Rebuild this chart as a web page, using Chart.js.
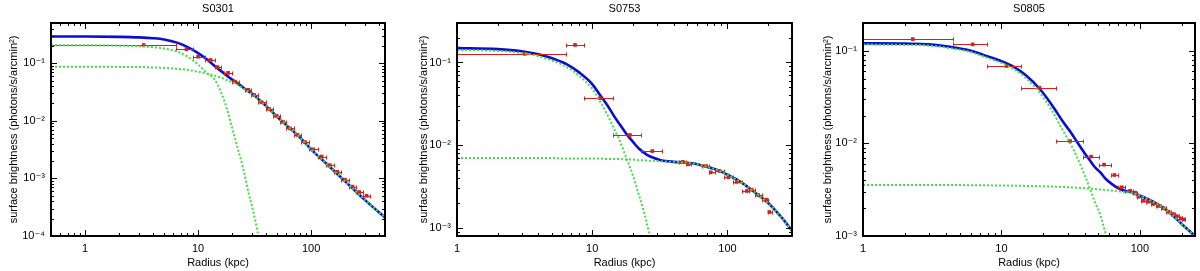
<!DOCTYPE html>
<html><head><meta charset="utf-8">
<script src="https://cdn.jsdelivr.net/npm/chart.js@4.4.1/dist/chart.umd.min.js"></script>
<style>
html,body{margin:0;padding:0;background:#fff;}
#wrap{position:relative;width:1200px;height:271px;overflow:hidden;background:#fff;}
.pane{position:absolute;top:0;width:400px;height:271px;}
canvas{display:block;}
</style></head><body>
<div id="wrap">
<div class="pane" style="left:0px"><canvas id="c1" width="400" height="271"></canvas></div>
<div class="pane" style="left:400px"><canvas id="c2" width="400" height="271"></canvas></div>
<div class="pane" style="left:800px"><canvas id="c3" width="400" height="271"></canvas></div>
</div>
<script>
// ---------- titles & tick labels ----------
const titles = ['S0301', 'S0753', 'S0805'];
const xTitle = 'Radius (kpc)';
const yTitle = 'surface brightness (photons/s/arcmin²)';
const xTickValues = [1, 10, 100];
const xTickLabels = ['1', '10', '100'];
const yTicks_S0301 = [1e-4, 1e-3, 1e-2, 1e-1];
const yLabels_S0301 = ['10⁻⁴', '10⁻³', '10⁻²', '10⁻¹'];
const yTicks_S0753 = [1e-3, 1e-2, 1e-1];
const yLabels_S0753 = ['10⁻³', '10⁻²', '10⁻¹'];
const yTicks_S0805 = [1e-3, 1e-2, 1e-1];
const yLabels_S0805 = ['10⁻³', '10⁻²', '10⁻¹'];

// ---------- S0301 ----------
const s0301_r   = [3.3, 7.9, 10.0, 12.9, 14.8, 18.4, 21.2, 27.8, 31.4, 36.5, 42.6, 49.5, 56.6, 64.9, 75.9, 88, 104, 124, 146.5, 170, 199, 233, 266, 309];
const s0301_sb  = [0.207, 0.175, 0.13, 0.114, 0.086, 0.068, 0.048, 0.0345, 0.028, 0.021, 0.016, 0.0122, 0.0095, 0.0074, 0.0057, 0.0043, 0.0032, 0.0024, 0.0017, 0.0013, 0.00095, 0.00072, 0.00058, 0.00050];
const s0301_rlo = [0.5, 6.4, 9.1, 11.5, 14.0, 17.0, 19.8, 26.0, 29.6, 34.0, 39.5, 46.0, 53.0, 60.5, 70.5, 82.0, 96.0, 114, 135, 158, 185, 216, 250, 288];
const s0301_rhi = [6.4, 9.1, 11.5, 14.0, 16.0, 19.8, 23.0, 29.6, 34.0, 39.5, 46.0, 53.0, 60.5, 70.5, 82.0, 96.0, 114, 135, 158, 185, 216, 250, 288, 330];
const s0301_grid  = [0.5, 1, 2, 3, 4, 5, 6.5, 8, 10, 12, 14, 16, 18, 20, 22, 25, 28, 31, 35, 40, 50, 60, 80, 100, 150, 200, 300, 450];
const s0301_total = [0.292, 0.291, 0.287, 0.281, 0.272, 0.259, 0.228, 0.192, 0.150, 0.116, 0.090, 0.073, 0.061, 0.052, 0.046, 0.038, 0.0325, 0.0283, 0.0228, 0.018, 0.0118, 0.0085, 0.0051, 0.0032, 0.00152, 0.00089, 0.00042, 0.00021];
const s0301_comp1 = [0.205, 0.205, 0.202, 0.197, 0.19, 0.18, 0.16, 0.132, 0.095, 0.068, 0.052, 0.031, 0.016, 0.0075, 0.0038, 0.0015, 0.00055, 0.00025, 0.00008, null, null, null, null, null, null, null, null, null];
const s0301_comp2 = [0.087, 0.087, 0.0865, 0.086, 0.0845, 0.083, 0.080, 0.077, 0.071, 0.066, 0.061, 0.056, 0.051, 0.047, 0.043, 0.037, 0.032, 0.028, 0.0225, 0.0178, 0.0118, 0.0085, 0.0051, 0.0032, 0.00152, 0.00089, 0.00042, 0.00021];

// ---------- S0753 ----------
const s0753_r   = [3.18, 7.46, 11.4, 19.0, 27.8, 46.7, 51.4, 69.5, 75.2, 87.1, 101.6, 117, 139, 151, 169, 193, 204];
const s0753_sb  = [0.127, 0.163, 0.037, 0.0133, 0.0085, 0.0063, 0.0059, 0.0056, 0.0047, 0.0049, 0.0041, 0.0036, 0.0028, 0.0029, 0.0025, 0.0022, 0.00156];
const s0753_rlo = [1, 6.37, 8.74, 14.3, 22.8, 43.5, 49, 65, 72.5, 81, 94.5, 109, 128, 145, 160, 181, 198];
const s0753_rhi = [6.37, 8.74, 14.3, 22.8, 32.7, 49, 54, 72.5, 81, 94.5, 109, 128, 145, 160, 181, 198, 212];
const s0753_grid  = [1, 2, 3, 4, 5, 6.5, 8, 10, 11.4, 13, 14.5, 16, 18, 20, 22, 24, 26, 28, 32, 40, 47, 60, 70, 85, 100, 125, 150, 200, 250, 300];
const s0753_total = [0.149, 0.145, 0.137, 0.126, 0.113, 0.0949, 0.0759, 0.0549, 0.0405, 0.0300, 0.0225, 0.0178, 0.0135, 0.011, 0.0092, 0.0082, 0.0075, 0.0071, 0.0066, 0.0063, 0.0062, 0.0059, 0.0055, 0.0050, 0.0044, 0.0036, 0.0029, 0.0020, 0.00135, 0.00093];
const s0753_comp1 = [0.142, 0.138, 0.13, 0.119, 0.106, 0.088, 0.069, 0.048, 0.034, 0.023, 0.0158, 0.0112, 0.0068, 0.0043, 0.0026, 0.0016, 0.00095, 0.00058, 0.0002, null, null, null, null, null, null, null, null, null, null, null];
const s0753_comp2 = [0.0070, 0.0070, 0.0070, 0.0070, 0.0070, 0.0069, 0.0069, 0.0069, 0.0069, 0.0068, 0.0068, 0.0068, 0.0067, 0.0067, 0.0066, 0.0066, 0.0065, 0.0065, 0.0064, 0.0063, 0.0062, 0.0059, 0.0055, 0.0050, 0.0044, 0.0036, 0.0029, 0.0020, 0.00135, 0.00093];

// ---------- S0805 ----------
const s0805_r   = [2.29, 6.2, 10.9, 18.8, 31.3, 44.4, 55.1, 65.4, 74, 85, 92.3, 97.5, 106, 115, 125, 136, 148, 161, 173, 185, 198, 206];
const s0805_sb  = [0.134, 0.1175, 0.0686, 0.040, 0.0106, 0.0072, 0.0059, 0.00456, 0.00336, 0.00308, 0.00294, 0.00266, 0.0024, 0.00235, 0.00222, 0.00211, 0.00199, 0.00183, 0.00173, 0.00164, 0.00155, 0.00151];
const s0805_rlo = [1, 4.49, 7.91, 13.9, 24.8, 38.7, 51, 61.6, 69.9, 78.2, 88.5, 95, 101.5, 110.5, 120, 130.5, 142, 154.5, 167, 179, 191.5, 202];
const s0805_rhi = [4.49, 7.91, 13.9, 24.8, 38.7, 51, 61.6, 69.9, 78.2, 88.5, 95, 101.5, 110.5, 120, 130.5, 142, 154.5, 167, 179, 191.5, 202, 212];
const s0805_grid  = [1, 2, 3, 4.25, 6, 7.4, 10, 12.2, 15, 19, 23, 28, 32, 35, 40, 43.7, 47, 51.6, 57, 65, 72, 90, 118, 156, 206, 250];
const s0805_total = [0.1206, 0.1196, 0.1176, 0.1106, 0.1005, 0.0905, 0.0775, 0.0675, 0.0545, 0.0385, 0.0264, 0.0169, 0.0129, 0.0105, 0.0078, 0.0065, 0.0056, 0.0049, 0.0041, 0.0035, 0.0032, 0.0029, 0.00245, 0.0019, 0.0013, 0.001];
const s0805_comp1 = [0.117, 0.116, 0.114, 0.107, 0.097, 0.087, 0.074, 0.064, 0.051, 0.035, 0.023, 0.0135, 0.0095, 0.0072, 0.0045, 0.0032, 0.0024, 0.0017, 0.001, 0.0004, null, null, null, null, null, null];
const s0805_comp2 = [0.00356, 0.00356, 0.00355, 0.00355, 0.00354, 0.00353, 0.00351, 0.0035, 0.00348, 0.00345, 0.00342, 0.00338, 0.00335, 0.00333, 0.00328, 0.00325, 0.00322, 0.00318, 0.00314, 0.00308, 0.00302, 0.00288, 0.00245, 0.0019, 0.0013, 0.001];

// ---------- styles / layout ----------
const BLUE = '#0c0cd2', GREEN = '#3fe03f', RED = '#d81e1e';
const FONT = "'Liberation Sans', 'DejaVu Sans', sans-serif";
Chart.defaults.font.family = FONT;
Chart.defaults.font.size = 11;
Chart.defaults.color = '#000';

const panels = [
  {id: 'c1', title: titles[0], xMin: 0.5, xMax: 450, yMin: 1e-4, yMax: 0.5, left: 51, right: 15, yTitlePad: 7,
   yTicks: yTicks_S0301, yLabels: yLabels_S0301,
   r: s0301_r, sb: s0301_sb, rlo: s0301_rlo, rhi: s0301_rhi, grid: s0301_grid, total: s0301_total, c1: s0301_comp1, c2: s0301_comp2},
  {id: 'c2', title: titles[1], xMin: 1, xMax: 300, yMin: 8e-4, yMax: 0.3, left: 57, right: 8, yTitlePad: 17,
   yTicks: yTicks_S0753, yLabels: yLabels_S0753,
   r: s0753_r, sb: s0753_sb, rlo: s0753_rlo, rhi: s0753_rhi, grid: s0753_grid, total: s0753_total, c1: s0753_comp1, c2: s0753_comp2},
  {id: 'c3', title: titles[2], xMin: 1, xMax: 250, yMin: 1e-3, yMax: 0.2, left: 63, right: 5, yTitlePad: 21,
   yTicks: yTicks_S0805, yLabels: yLabels_S0805,
   r: s0805_r, sb: s0805_sb, rlo: s0805_rlo, rhi: s0805_rhi, grid: s0805_grid, total: s0805_total, c1: s0805_comp1, c2: s0805_comp2}
];

const zip = (xs, ys) => xs.map((x, i) => ({x: x, y: ys[i]}));

const errBars = {
  id: 'errBars',
  afterDatasetDraw(chart, args) {
    const ds = chart.data.datasets[args.index];
    if (!ds.xLo) return;
    const {ctx, chartArea: a, scales: {x, y}} = chart;
    ctx.save();
    ctx.beginPath(); ctx.rect(a.left, a.top, a.right - a.left, a.bottom - a.top); ctx.clip();
    ctx.strokeStyle = ds.borderColor; ctx.lineWidth = 1;
    ctx.beginPath();
    ds.data.forEach((p, i) => {
      const py = Math.round(y.getPixelForValue(p.y)) + 0.5;
      const x0 = Math.round(x.getPixelForValue(ds.xLo[i])) + 0.5;
      const x1 = Math.round(x.getPixelForValue(ds.xHi[i])) + 0.5;
      ctx.moveTo(x0, py); ctx.lineTo(x1, py);
      ctx.moveTo(x0, py - 2); ctx.lineTo(x0, py + 2);
      ctx.moveTo(x1, py - 2); ctx.lineTo(x1, py + 2);
    });
    ctx.stroke();
    ctx.restore();
  }
};

const frameTicks = {
  id: 'frameTicks',
  afterDraw(chart, args, opts) {
    const {ctx, chartArea: a, scales: {x, y}} = chart;
    const logTicks = (s) => {
      const out = [];
      const lo = Math.floor(Math.log10(s.min)), hi = Math.ceil(Math.log10(s.max));
      for (let e = lo; e <= hi; e++) for (let m = 1; m <= 9; m++) {
        const v = m * Math.pow(10, e);
        if (v >= s.min * 0.999 && v <= s.max * 1.001) out.push({v: v, major: m === 1});
      }
      return out;
    };
    ctx.save();
    ctx.strokeStyle = '#000'; ctx.lineWidth = 1;
    ctx.beginPath();
    logTicks(x).forEach(t => {
      const px = Math.round(x.getPixelForValue(t.v)) + 0.5, L = t.major ? 6 : 3;
      ctx.moveTo(px, a.bottom); ctx.lineTo(px, a.bottom - L);
      ctx.moveTo(px, a.top); ctx.lineTo(px, a.top + L);
    });
    logTicks(y).forEach(t => {
      const py = Math.round(y.getPixelForValue(t.v)) + 0.5, L = t.major ? 6 : 3;
      ctx.moveTo(a.left, py); ctx.lineTo(a.left + L, py);
      ctx.moveTo(a.right, py); ctx.lineTo(a.right - L, py);
    });
    ctx.stroke();
    ctx.lineWidth = 2;
    ctx.strokeRect(a.left, a.top, a.right - a.left, a.bottom - a.top);
    ctx.fillStyle = '#000';
    ctx.font = "11px " + FONT;
    ctx.textAlign = 'center'; ctx.textBaseline = 'middle';
    ctx.fillText(opts.text, (a.left + a.right) / 2, 9);
    ctx.restore();
  }
};

panels.forEach(P => {
  new Chart(document.getElementById(P.id), {
    type: 'line',
    data: {
      datasets: [
        {label: 'component 1', data: zip(P.grid, P.c1), borderColor: GREEN, borderWidth: 2, borderDash: [2, 2], pointRadius: 0, fill: false, cubicInterpolationMode: 'monotone', spanGaps: false},
        {label: 'component 2', data: zip(P.grid, P.c2), borderColor: GREEN, borderWidth: 2, borderDash: [2, 2], pointRadius: 0, fill: false, cubicInterpolationMode: 'monotone'},
        {label: 'data', data: zip(P.r, P.sb), xLo: P.rlo, xHi: P.rhi, showLine: false, pointStyle: 'rect', pointRadius: 2.6, borderWidth: 0, backgroundColor: RED, borderColor: RED},
        {label: 'total model', data: zip(P.grid, P.total), borderColor: BLUE, borderWidth: 2.6, pointRadius: 0, fill: false, cubicInterpolationMode: 'monotone'}
      ]
    },
    options: {
      responsive: false, animation: false, devicePixelRatio: 1,
      layout: {padding: {top: 23, right: P.right, left: 0, bottom: 0}},
      plugins: {legend: {display: false}, tooltip: {enabled: false}, title: {display: false}, frameTicks: {text: P.title}},
      scales: {
        x: {
          type: 'logarithmic', min: P.xMin, max: P.xMax,
          grid: {display: false, drawTicks: false}, border: {display: false},
          afterBuildTicks: s => { s.ticks = xTickValues.map(v => ({value: v})); },
          afterFit: s => { s.height = 35; },
          ticks: {autoSkip: false, maxRotation: 0, padding: 6, callback: (v, i) => xTickLabels[i]},
          title: {display: true, text: xTitle, font: {size: 11}, padding: {top: 0, bottom: 1}}
        },
        y: {
          type: 'logarithmic', min: P.yMin, max: P.yMax,
          grid: {display: false, drawTicks: false}, border: {display: false},
          afterBuildTicks: s => { s.ticks = P.yTicks.map(v => ({value: v})); },
          afterFit: s => { s.width = P.left; },
          ticks: {autoSkip: false, padding: 6, callback: (v, i) => P.yLabels[i]},
          title: {display: true, text: yTitle, font: {size: 11}, padding: {top: P.yTitlePad, bottom: 0}}
        }
      }
    },
    plugins: [errBars, frameTicks]
  });
});
</script>
</body></html>
